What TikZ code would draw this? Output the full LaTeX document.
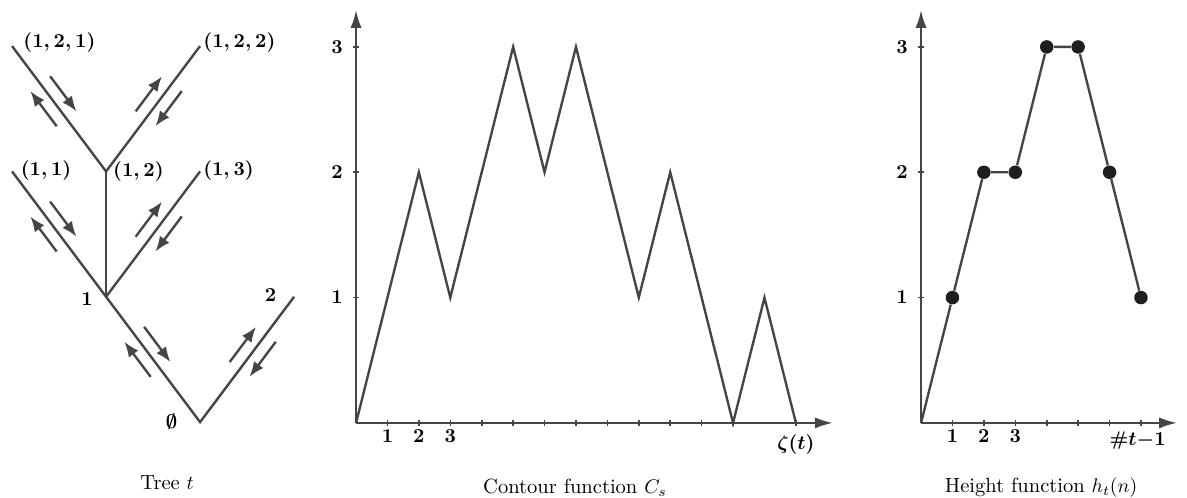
\documentclass[tikz,border=0pt]{standalone}
\usetikzlibrary{arrows.meta,calc,positioning}

\definecolor{linegray}{HTML}{454545}
\definecolor{dotblack}{HTML}{1E1E1E}

\tikzset{
  branch/.style={draw=linegray, line width=1.2pt},
  flow/.style={draw=linegray, line width=1.2pt, -{Latex[length=2.7mm,width=2.1mm]}},
  axis/.style={draw=linegray, line width=1.2pt, -{Latex[length=3.2mm,width=2mm]}},
  profile/.style={draw=linegray, line width=1.2pt},
  tick/.style={draw=linegray, line width=0.8pt},
  lab/.style={inner sep=0pt, font=\boldmath},
  captxt/.style={inner sep=0pt, font=\fontsize{10.4}{12}\selectfont},
  dot/.style={circle, fill=dotblack, inner sep=0pt, minimum size=2.4mm},
}

\begin{document}
\begin{tikzpicture}
  \useasboundingbox (0,0) rectangle (21.12,8.86);

  % tree t
  \begin{scope}[shift={(3.56,1.35)}, x=1.673cm, y=2.23cm]
    \coordinate (root) at (0,0);
    \coordinate (v1) at (-1,1);
    \coordinate (v2) at (1,1);
    \coordinate (v11) at (-2,2);
    \coordinate (v12) at (-1,2);
    \coordinate (v13) at (0,2);
    \coordinate (v121) at (-2,3);
    \coordinate (v122) at (0,3);
    \draw[branch] (v1) -- (root) -- (v2);
    \draw[branch] (v11) -- (v1) -- (v13);
    \draw[branch] (v1) -- (v12);
    \draw[branch] (v121) -- (v12) -- (v122);
    % walk round the tree: up on the left, down on the right
    \foreach \p/\c in {root/v1, root/v2, v1/v11, v1/v13, v12/v121, v12/v122} {
      \draw[flow] ($(\p)!0.42!(\c)!0.22cm!90:(\c)$) -- ($(\p)!0.70!(\c)!0.22cm!90:(\c)$);
      \draw[flow] ($(\p)!0.70!(\c)!0.22cm!-90:(\c)$) -- ($(\p)!0.42!(\c)!0.22cm!-90:(\c)$);
    }
    \node[lab, right=0.196cm of v121, yshift=0.06cm] (l121) {$(1,2,1)$};
    \node[lab, right=0.053cm of v122, yshift=0.06cm] (l122) {$(1,2,2)$};
    \node[lab, right=0.15cm of v11, yshift=0.015cm] (l11) {$(1,1)$};
    \node[lab, right=0.12cm of v12] (l12) {$(1,2)$};
    \node[lab, right=0.05cm of v13, yshift=0.015cm] (l13) {$(1,3)$};
    \node[lab, left=0.23cm of v1, yshift=-0.04cm] (l1) {$1$};
    \node[lab, left=0.31cm of v2, yshift=0.02cm] (l2) {$2$};
    \node[lab, left=0.4cm of root] (lroot) {$\emptyset$};
    \node[captxt] (capT) at (-0.351,-0.487) {Tree $t$};
  \end{scope}

  % contour function
  \begin{scope}[shift={(6.335,1.335)}, x=0.559cm, y=2.23cm]
    \coordinate (c0) at (0,0);
    \coordinate (cxend) at (15.18,0);
    \coordinate (cyend) at (0,3.295);
    \draw[axis] (c0) -- (cxend);
    \draw[axis] (c0) -- (cyend);
    \foreach \x in {1,...,12,14}
      \draw[tick] (\x,0) ++(0,-0.06cm) -- ++(0,0.12cm);
    \foreach \y in {1,2,3} {
      \draw[tick] (0,\y) ++(-0.06cm,0) -- ++(0.12cm,0);
      \node[lab, anchor=east] (cl\y) at ([xshift=-0.23cm]0,\y) {$\y$};
    }
    \foreach \x in {1,2,3}
      \node[lab, anchor=north] (cb\x) at ([yshift=-0.11cm]\x,0) {$\x$};
    \node[lab, anchor=north] (zeta) at ([yshift=-0.21cm]14,0) {$\zeta(t)$};
    \draw[profile] (c0) \foreach \y [count=\x] in {1,2,1,2,3,2,3,2,1,2,1,0,1,0} { -- (\x,\y) };
    \node[captxt] (capC) at (6.97,-0.519) {Contour function $C_s$};
  \end{scope}

  % height function
  \begin{scope}[shift={(16.388,1.335)}, x=0.559cm, y=2.23cm]
    \coordinate (h0) at (0,0);
    \coordinate (hxend) at (8.15,0);
    \coordinate (hyend) at (0,3.295);
    \draw[axis] (h0) -- (hxend);
    \draw[axis] (h0) -- (hyend);
    \foreach \x in {1,...,7}
      \draw[tick] (\x,0) ++(0,-0.06cm) -- ++(0,0.12cm);
    \foreach \y in {1,2,3} {
      \draw[tick] (0,\y) ++(-0.06cm,0) -- ++(0.12cm,0);
      \node[lab, anchor=east] (hl\y) at ([xshift=-0.23cm]0,\y) {$\y$};
    }
    \foreach \x in {1,2,3}
      \node[lab, anchor=north] (hb\x) at ([yshift=-0.11cm]\x,0) {$\x$};
    \node[lab, anchor=north] (hlast) at ([xshift=-0.06cm,yshift=-0.15cm]7,0) {$\#t{-}1$};
    \foreach \y [count=\x] in {1,2,2,3,3,2,1}
      \node[dot] (h\x) at (\x,\y) {};
    \draw[profile] (h0) -- (h1) -- (h2) -- (h3) -- (h4) -- (h5) -- (h6) -- (h7);
    \node[captxt] (capH) at (3.82,-0.519) {Height function $h_t(n)$};
  \end{scope}
\end{tikzpicture}
\end{document}
